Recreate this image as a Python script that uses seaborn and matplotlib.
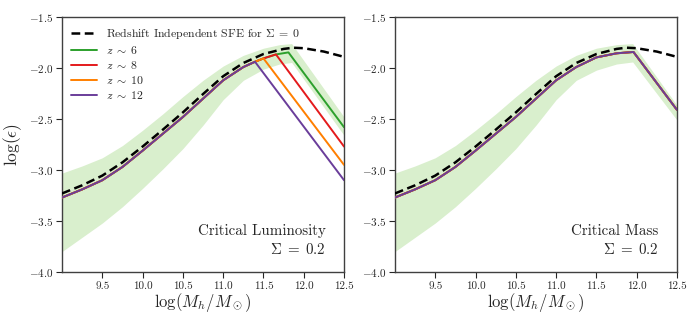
import numpy as np
import matplotlib
matplotlib.use("Agg")
import matplotlib.pyplot as plt
import seaborn as sns

# ---- data ----
# halo mass grid for the shared (pre-break) part of the z curves
mh_base = [9.0, 9.25, 9.5, 9.75, 10.0, 10.25, 10.5, 10.75, 11.0, 11.25]
eps_base = [-3.27, -3.19, -3.10, -2.97, -2.81, -2.645, -2.48, -2.30, -2.12, -1.99]

# redshift independent SFE (Sigma = 0), dashed
sfe_mh = [9.0, 9.25, 9.5, 9.75, 10.0, 10.25, 10.5, 10.75, 11.0, 11.25,
          11.5, 11.75, 11.87, 12.0, 12.25, 12.5]
sfe_eps = [-3.23, -3.15, -3.055, -2.925, -2.77, -2.605, -2.435, -2.255, -2.08,
           -1.95, -1.862, -1.812, -1.80, -1.805, -1.838, -1.89]

# critical luminosity: tail of each z curve after the shared part
lum_tail_mh = {
    "6": [11.395, 11.50, 11.655, 11.81, 12.5],
    "8": [11.395, 11.50, 11.655, 12.5],
    "10": [11.395, 11.50, 12.5],
    "12": [11.395, 12.5],
}
lum_tail_eps = {
    "6": [-1.938, -1.905, -1.866, -1.846, -2.58],
    "8": [-1.938, -1.905, -1.866, -2.77],
    "10": [-1.938, -1.905, -2.95],
    "12": [-1.938, -3.10],
}

# critical mass: all redshifts nearly on top of each other
mass_tail_mh = [11.395, 11.5, 11.75, 11.96, 12.5]
mass_tail_eps = [-1.935, -1.895, -1.855, -1.842, -2.41]

# shaded band around z~6
lum_band_mh = [9.0, 9.25, 9.5, 9.75, 10.0, 10.25, 10.5, 10.75, 11.0, 11.25,
               11.5, 11.7, 11.85, 12.5]
lum_band_hi = [-3.03, -2.96, -2.88, -2.76, -2.61, -2.45, -2.28, -2.12, -1.98,
               -1.875, -1.805, -1.77, -1.76, -2.48]
lum_band_lo = [-3.80, -3.66, -3.52, -3.36, -3.18, -2.99, -2.79, -2.56, -2.31,
               -2.12, -2.01, -1.96, -1.945, -2.66]

mass_band_mh = [9.0, 9.25, 9.5, 9.75, 10.0, 10.25, 10.5, 10.75, 11.0, 11.25,
                11.5, 11.75, 11.95, 12.5]
mass_band_hi = [-3.03, -2.96, -2.88, -2.76, -2.61, -2.45, -2.28, -2.12, -1.98,
                -1.875, -1.805, -1.77, -1.76, -2.365]
mass_band_lo = [-3.80, -3.66, -3.52, -3.36, -3.18, -2.99, -2.79, -2.56, -2.31,
                -2.12, -2.02, -1.96, -1.94, -2.51]

redshifts = ["6", "8", "10", "12"]
colors = {"6": "#2ca02c", "8": "#e41a1c", "10": "#ff7f00", "12": "#6a3d9a"}
band_color = "#d9efcd"

# ---- style ----
sns.set_theme(style="ticks")
plt.rcParams["font.family"] = ["cmr10", "DejaVu Serif"]
plt.rcParams["mathtext.fontset"] = "cm"
plt.rcParams["axes.formatter.use_mathtext"] = True
plt.rcParams["axes.unicode_minus"] = True

fig = plt.figure(figsize=(6.99, 3.23), dpi=100)
ax1 = fig.add_axes([0.0887, 0.158, 0.4035, 0.789])
ax2 = fig.add_axes([0.565, 0.158, 0.4035, 0.789])


def draw_panel(ax, band_mh, band_lo, band_hi, tails_mh, tails_eps, label, legend):
    ax.fill_between(band_mh, band_lo, band_hi, color=band_color, lw=0, zorder=1)
    sns.lineplot(x=sfe_mh, y=sfe_eps, ax=ax, color="black", lw=1.8,
                 linestyle=(0, (3.5, 1.8)), zorder=5,
                 label=r"Redshift Independent SFE for $\Sigma\;=\;0$")
    for z in redshifts:
        xs = mh_base + tails_mh[z]
        ys = eps_base + tails_eps[z]
        sns.lineplot(x=xs, y=ys, ax=ax, color=colors[z], lw=1.4, zorder=3,
                     label=r"$z\;\sim\;%s$" % z)
    ax.set_xlim(9.0, 12.5)
    ax.set_ylim(-4.0, -1.5)
    ax.set_xticks([9.5, 10.0, 10.5, 11.0, 11.5, 12.0, 12.5])
    ax.set_yticks([-4.0, -3.5, -3.0, -2.5, -2.0, -1.5])
    ax.xaxis.set_major_formatter(matplotlib.ticker.FormatStrFormatter("%.1f"))
    ax.yaxis.set_major_formatter(matplotlib.ticker.FuncFormatter(
        lambda v, p: r"$%.1f$" % v))
    ax.tick_params(labelsize=8, length=4, width=0.8, pad=2.5, colors="0.15")
    for s in ax.spines.values():
        s.set_linewidth(1.0)
        s.set_color("0.25")
    ax.set_xlabel(r"$\log(M_h/M_\odot)$", fontsize=12, labelpad=0)
    ax.text(0.935, 0.145, label, transform=ax.transAxes, ha="right",
            fontsize=10.8)
    ax.text(0.935, 0.07, r"$\Sigma\;=\;0.2$", transform=ax.transAxes, ha="right",
            fontsize=10.8)
    if legend:
        ax.legend(loc="upper left", frameon=False, fontsize=8.5,
                  handlelength=2.2, labelspacing=0.26, borderaxespad=0.35)
    else:
        ax.get_legend().remove()


draw_panel(ax1, lum_band_mh, lum_band_lo, lum_band_hi,
           lum_tail_mh, lum_tail_eps, "Critical Luminosity", True)

mass_mh = {z: mass_tail_mh for z in redshifts}
mass_eps = {z: mass_tail_eps for z in redshifts}
draw_panel(ax2, mass_band_mh, mass_band_lo, mass_band_hi,
           mass_mh, mass_eps, "Critical Mass", False)

ax1.set_ylabel(r"$\log(\epsilon)$", fontsize=12.5, labelpad=3)
ax2.set_ylabel("")

fig.savefig("out.png", dpi=100)
